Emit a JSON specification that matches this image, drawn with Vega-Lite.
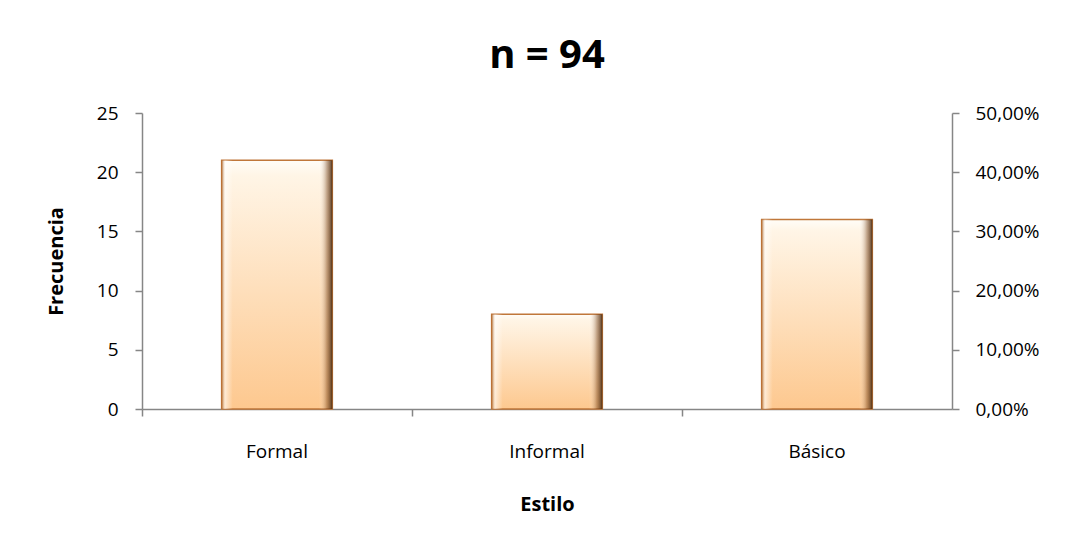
{
  "$schema": "https://vega.github.io/schema/vega-lite/v6.json",
  "width": 810,
  "height": 296,
  "autosize": "none",
  "padding": {"left": 142, "top": 113, "right": 125, "bottom": 137},
  "background": "white",
  "config": {
    "view": {"stroke": null},
    "font": "Open Sans",
    "locale": {"number": {"decimal": ",", "thousands": ".", "grouping": [3], "currency": ["", " €"]}},
    "axis": {
      "grid": false,
      "domainColor": "#868686",
      "tickColor": "#868686",
      "domainWidth": 1.5,
      "tickWidth": 1.5,
      "tickSize": 7,
      "labelFont": "Open Sans",
      "labelFontSize": 19,
      "labelColor": "#000000",
      "labelOverlap": false,
      "titleFont": "Open Sans",
      "titleFontSize": 20,
      "titleFontWeight": "bold",
      "titleColor": "#000000"
    }
  },
  "title": {"text": "n = 94", "fontSize": 40, "fontWeight": "bold", "font": "Open Sans", "color": "#000000", "offset": 28},
  "data": {
    "values": [
      {"estilo": "Formal", "frecuencia": 21, "porcentaje": 0.2234},
      {"estilo": "Informal", "frecuencia": 8, "porcentaje": 0.0851},
      {"estilo": "Básico", "frecuencia": 16, "porcentaje": 0.1702}
    ]
  },
  "encoding": {
    "x": {
      "field": "estilo",
      "type": "nominal",
      "sort": null,
      "scale": {"paddingInner": 0, "paddingOuter": 0},
      "axis": {"title": "Estilo", "labelAngle": 0, "bandPosition": 0, "labelPadding": 26, "titlePadding": 33, "labelFlush": false}
    }
  },
  "layer": [
    {
      "mark": {
        "type": "bar",
        "width": {"band": 0.41},
        "stroke": "#c0773a",
        "strokeWidth": 1.5,
        "color": {
          "gradient": "linear", "x1": 0, "y1": 0, "x2": 0, "y2": 1,
          "stops": [
            {"offset": 0, "color": "#fffdf8"},
            {"offset": 0.06, "color": "#fff5e6"},
            {"offset": 1, "color": "#fdc88f"}
          ]
        }
      },
      "encoding": {
        "y": {
          "field": "frecuencia",
          "type": "quantitative",
          "scale": {"domain": [0, 25]},
          "axis": {"title": "Frecuencia", "values": [0, 5, 10, 15, 20, 25], "labelPadding": 17, "titlePadding": 30}
        }
      }
    },
    {
      "mark": {
        "type": "bar",
        "width": {"band": 0.41},
        "color": {
          "gradient": "linear", "x1": 0, "y1": 0, "x2": 1, "y2": 0,
          "stops": [
            {"offset": 0, "color": "rgba(170,100,40,0.7)"},
            {"offset": 0.03, "color": "rgba(255,255,255,0.6)"},
            {"offset": 0.1, "color": "rgba(255,255,255,0)"},
            {"offset": 0.88, "color": "rgba(255,255,255,0)"},
            {"offset": 0.95, "color": "rgba(120,70,30,0.45)"},
            {"offset": 1, "color": "rgba(70,40,15,0.9)"}
          ]
        }
      },
      "encoding": {
        "y": {"field": "frecuencia", "type": "quantitative", "scale": {"domain": [0, 25]}, "axis": null}
      }
    },
    {
      "mark": {"type": "point", "opacity": 0},
      "encoding": {
        "y": {
          "field": "porcentaje",
          "type": "quantitative",
          "scale": {"domain": [0, 0.5]},
          "axis": {"title": null, "orient": "right", "format": ".2%", "values": [0, 0.1, 0.2, 0.3, 0.4, 0.5], "labelPadding": 16}
        }
      }
    }
  ],
  "resolve": {"scale": {"y": "independent"}, "axis": {"y": "independent"}}
}
